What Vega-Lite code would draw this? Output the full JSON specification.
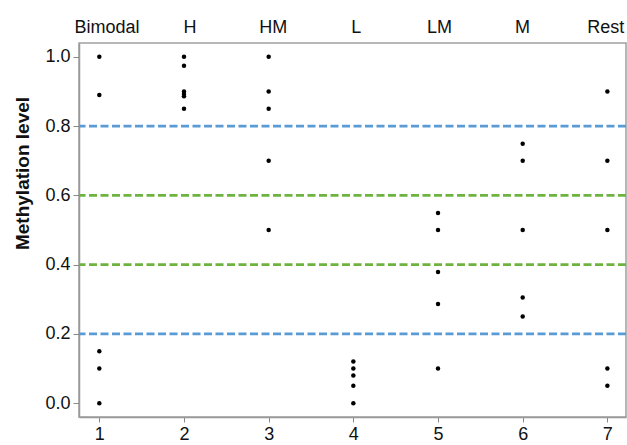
{
  "$schema": "https://vega.github.io/schema/vega-lite/v6.json",
  "autosize": "none",
  "width": 547,
  "height": 374,
  "padding": {"left": 79, "top": 43, "right": 1, "bottom": 28},
  "config": {
    "font": "Liberation Sans",
    "view": {"stroke": "#a0a0a0", "strokeWidth": 1.5},
    "axis": {"labelFont": "Liberation Sans", "titleFont": "Liberation Sans", "labelColor": "#111", "titleColor": "#111", "grid": false}
  },
  "datasets": {
    "pts": [
      {"group": 1, "value": 1.0}, {"group": 1, "value": 0.89}, {"group": 1, "value": 0.15}, {"group": 1, "value": 0.10}, {"group": 1, "value": 0.0},
      {"group": 2, "value": 1.0}, {"group": 2, "value": 0.974}, {"group": 2, "value": 0.90}, {"group": 2, "value": 0.893}, {"group": 2, "value": 0.886}, {"group": 2, "value": 0.85},
      {"group": 3, "value": 1.0}, {"group": 3, "value": 0.90}, {"group": 3, "value": 0.85}, {"group": 3, "value": 0.70}, {"group": 3, "value": 0.50},
      {"group": 4, "value": 0.12}, {"group": 4, "value": 0.10}, {"group": 4, "value": 0.08}, {"group": 4, "value": 0.05}, {"group": 4, "value": 0.0},
      {"group": 5, "value": 0.549}, {"group": 5, "value": 0.50}, {"group": 5, "value": 0.379}, {"group": 5, "value": 0.286}, {"group": 5, "value": 0.10},
      {"group": 6, "value": 0.749}, {"group": 6, "value": 0.70}, {"group": 6, "value": 0.50}, {"group": 6, "value": 0.305}, {"group": 6, "value": 0.25},
      {"group": 7, "value": 0.90}, {"group": 7, "value": 0.70}, {"group": 7, "value": 0.50}, {"group": 7, "value": 0.10}, {"group": 7, "value": 0.05}
    ],
    "lines": [
      {"value": 0.8, "kind": "outer"}, {"value": 0.2, "kind": "outer"},
      {"value": 0.6, "kind": "inner"}, {"value": 0.4, "kind": "inner"}
    ]
  },
  "layer": [
    {
      "data": {"name": "pts"},
      "mark": {"type": "point", "filled": true, "size": 20, "color": "#000", "opacity": 1},
      "encoding": {
        "x": {"field": "group", "type": "quantitative", "scale": {"domain": [0.76, 7.22], "nice": false, "zero": false},
          "axis": {"orient": "bottom", "values": [1,2,3,4,5,6,7], "format": "d", "title": null, "labelFontSize": 18, "tickSize": 5, "tickColor": "#888", "domainColor": "#999", "domainWidth": 1.5, "labelPadding": 3}},
        "y": {"field": "value", "type": "quantitative", "scale": {"domain": [-0.04, 1.04], "nice": false, "zero": false},
          "axis": {"values": [0, 0.2, 0.4, 0.6, 0.8, 1.0], "format": ".1f", "title": "Methylation level", "titleFontSize": 19, "titleFontWeight": "bold", "titleY": 130, "titleX": -57, "titleAlign": "center", "titleBaseline": "middle", "labelFontSize": 18, "tickSize": 6, "tickColor": "#888", "domainColor": "#999", "domainWidth": 1.5, "labelPadding": 3}}
      }
    },
    {
      "data": {"name": "lines"},
      "mark": {"type": "rule", "strokeWidth": 2.6, "strokeDash": [8, 3.5]},
      "encoding": {
        "y": {"field": "value", "type": "quantitative", "scale": {"domain": [-0.04, 1.04], "nice": false, "zero": false}},
        "color": {"field": "kind", "type": "nominal", "scale": {"domain": ["outer", "inner"], "range": ["#5b9bd5", "#6db33f"]}, "legend": null}
      }
    },
    {
      "data": {"name": "pts"},
      "mark": {"type": "point", "opacity": 0},
      "encoding": {
        "x": {"field": "group", "type": "quantitative", "scale": {"domain": [0.67, 7.25], "nice": false, "zero": false},
          "axis": {"orient": "top", "values": [1,2,3,4,5,6,7], "title": null, "labelFontSize": 18, "ticks": false, "domain": false, "labelPadding": 7,
            "labelExpr": "['Bimodal','H','HM','L','LM','M','Rest'][datum.value - 1]"}}
      }
    }
  ],
  "resolve": {"scale": {"x": "independent"}, "axis": {"x": "independent"}}
}
